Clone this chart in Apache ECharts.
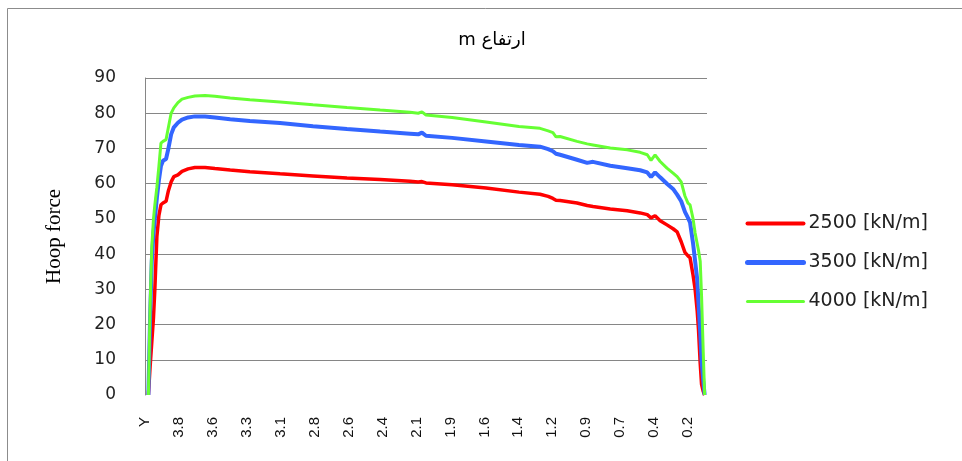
<!DOCTYPE html>
<html>
<head>
<meta charset="utf-8">
<script src="https://cdn.jsdelivr.net/npm/echarts@6/dist/echarts.min.js"></script>
<style>
html,body{margin:0;padding:0;background:#fff;}
#chart{width:962px;height:461px;}
</style>
</head>
<body>
<div id="chart"></div>
<script>
// Category tick labels along the height axis (one label every step)
const tickLabels = ['Y','3.8','3.6','3.3','3.1','2.8','2.6','2.4','2.1','1.9','1.6','1.4','1.2','0.9','0.7','0.4','0.2'];
// Position of each sample along the height axis, in label steps (0 = "Y")
const heightStep = [0.10,0.15,0.20,0.25,0.29,0.35,0.41,0.47,0.53,0.62,0.69,0.77,0.85,0.97,1.09,1.27,1.47,1.77,2.06,2.51,3.09,3.98,4.95,5.95,6.93,7.81,8.05,8.16,8.28,9.05,10.05,11.02,11.64,11.88,12.02,12.11,12.23,12.73,13.03,13.20,13.71,14.21,14.59,14.80,14.91,15.03,15.18,15.38,15.56,15.68,15.80,15.91,16.00,16.06,16.15,16.21,16.27,16.31,16.36,16.40,16.45,16.49];
const seriesNames = ['2500 [kN/m]','3500 [kN/m]','4000 [kN/m]'];
const hoop2500 = [0,8,15,22,30,45,51,54,54.5,55,58,60.5,62,62.5,63.5,64.2,64.6,64.6,64.3,63.9,63.4,62.8,62.2,61.6,61.2,60.7,60.5,60.6,60.2,59.7,58.8,57.6,57,56.4,55.8,55.3,55.2,54.5,53.8,53.5,52.8,52.3,51.7,51.2,50.3,50.9,49.5,48.3,47.2,46.3,43.5,40.5,39.5,39,34,30,24,18.5,9,3,1,0];
const hoop3500 = [0,22,38,46,50,56,61,65,66.5,67,70,74,76,77.3,78.2,78.8,79.1,79.1,78.8,78.3,77.8,77.2,76.3,75.5,74.8,74.2,74,74.5,73.6,73,72,71,70.5,69.8,69.2,68.5,68.2,66.8,65.9,66.2,65.1,64.4,63.8,63.2,61.9,63.2,61.8,60,58.5,56.9,55,52,50.3,49,43,38,33,26,18,10,4,0];
const hoop4000 = [0,25,42,50,54,59,65,71.5,72,72.5,76,80,81.5,83,84,84.5,84.9,85,84.8,84.3,83.8,83.2,82.4,81.6,80.9,80.3,80,80.4,79.5,78.8,77.5,76.2,75.7,75,74.5,73.3,73.4,72,71.3,71,70.1,69.6,68.9,68.2,66.6,68.2,66.3,64.4,63,62,60.5,56.5,54.5,54,50,46,43,41,38,28,12,0];

const colors = ['#FF0000','#3366FF','#66FF33'];
const widths = [3.5,4,3];
const legendWidths = [4,5,3];
const values = [hoop2500, hoop3500, hoop4000];

const chart = echarts.init(document.getElementById('chart'));
chart.setOption({
  backgroundColor:'#ffffff',
  animation:false,
  graphic:[
    {type:'rect', shape:{x:7.5,y:8.5,width:1000,height:500}, style:{fill:'none',stroke:'#8c8c8c',lineWidth:1}, z:-1},
    {type:'text', x:492, y:40, style:{text:'m ارتفاع', font:'18px "DejaVu Sans"', fill:'#000', textAlign:'center', textVerticalAlign:'middle'}}
  ],
  grid:{left:145,right:255,top:78,bottom:66,containLabel:false},
  legend:{
    orient:'vertical', left:740, top:209, itemWidth:56, itemHeight:14, itemGap:20,
    itemStyle:{opacity:0},
    data: seriesNames.map(function(n,k){ return {name:n, lineStyle:{width:legendWidths[k], color:colors[k], cap:'round'}}; }),
    textStyle:{fontFamily:'DejaVu Sans', fontSize:19, color:'#222'}
  },
  xAxis:{
    type:'value', min:0, max:16.56, interval:1,
    axisLine:{show:false}, axisTick:{show:false}, splitLine:{show:false},
    axisLabel:{
      rotate:90, margin:22, showMaxLabel:false,
      fontFamily:'Liberation Sans', fontSize:15, color:'#111',
      formatter:function(v){ return (Number.isInteger(v) && tickLabels[v] !== undefined) ? tickLabels[v] : ''; }
    }
  },
  yAxis:{
    type:'value', min:0, max:90, interval:10,
    name:'Hoop force', nameLocation:'middle', nameGap:80,
    nameTextStyle:{fontFamily:'Liberation Serif', fontSize:21, color:'#000'},
    axisLine:{show:true, lineStyle:{color:'#868686', width:1}},
    axisTick:{show:false},
    splitLine:{show:true, showMinLine:false, lineStyle:{color:'#868686', width:1}},
    axisLabel:{margin:29, fontFamily:'DejaVu Sans', fontSize:17, color:'#222'}
  },
  series: seriesNames.map(function(name, k){
    return {
      name:name, type:'line', symbol:'none', smooth:false,
      data: heightStep.map(function(h,i){ return [h, values[k][i]]; }),
      lineStyle:{color:colors[k], width:widths[k]},
      itemStyle:{color:colors[k]}
    };
  })
});
</script>
</body>
</html>
